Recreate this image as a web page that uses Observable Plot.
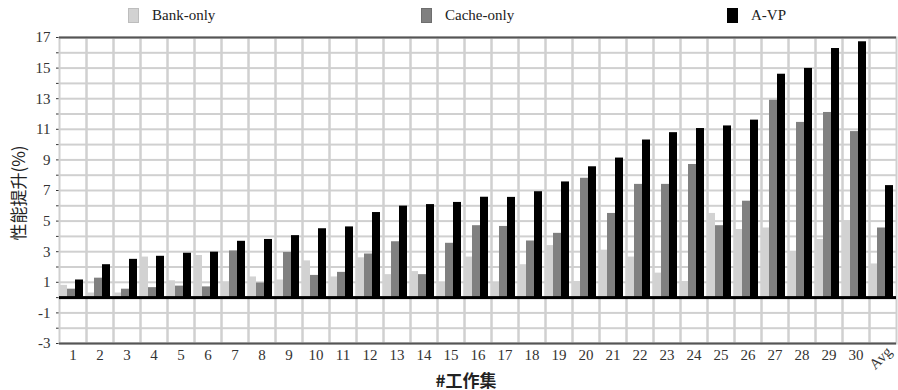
<!DOCTYPE html>
<html>
<head>
<meta charset="utf-8">
<script src="https://cdn.jsdelivr.net/npm/d3@7"></script>
<script src="https://cdn.jsdelivr.net/npm/@observablehq/plot@0.6"></script>
<style>
  html, body { margin: 0; padding: 0; background: #fff; overflow: hidden; }
  #wrap { position: relative; width: 898px; height: 390px; }
  #legend { position: relative; height: 30px; font-family: "Liberation Serif", serif; font-size: 15px; color: #222; }
  .item { position: absolute; top: 8px; display: flex; align-items: center; line-height: 1; }
  .sw { width: 11px; height: 15px; margin-right: 13px; box-sizing: border-box; }
  #ytitle { position: absolute; left: 17px; top: 193px; transform: translate(-50%, -50%) rotate(-90deg);
            font-family: "Noto Sans CJK SC", sans-serif; font-size: 17px; line-height: 1; white-space: nowrap; color: #222; }
  #xtitle { position: absolute; left: 466px; top: 379px; transform: translate(-50%, -50%);
            font-family: "Noto Sans CJK SC", sans-serif; font-size: 17px; line-height: 1; font-weight: bold; white-space: nowrap; color: #222; }
</style>
</head>
<body>
<div id="wrap">
  <div id="legend"></div>
  <div id="chart"></div>
  <div id="ytitle">性能提升(%)</div>
  <div id="xtitle">#工作集</div>
</div>
<script>
const categories = ["1","2","3","4","5","6","7","8","9","10","11","12","13","14","15","16","17","18","19","20","21","22","23","24","25","26","27","28","29","30","Avg"];
const seriesNames = ["Bank-only", "Cache-only", "A-VP"];
const bankOnly  = [0.8,0.3,0.3,2.65,1.1,2.75,1.0,1.35,1.15,2.4,1.35,2.6,1.5,1.7,0.95,2.65,0.95,2.15,3.4,1.05,3.1,2.65,1.6,1.05,5.5,4.45,4.55,3.0,3.8,5.0,2.2];
const cacheOnly = [0.55,1.27,0.55,0.65,0.75,0.7,3.05,0.95,2.95,1.45,1.65,2.85,3.65,1.5,3.55,4.7,4.65,3.7,4.2,7.8,5.5,7.4,7.4,8.7,4.7,6.3,12.9,11.45,12.1,10.85,4.55];
const avp       = [1.15,2.15,2.5,2.7,2.9,2.97,3.68,3.8,4.05,4.5,4.62,5.56,5.98,6.08,6.22,6.56,6.55,6.92,7.56,8.55,9.12,10.3,10.78,11.05,11.22,11.6,14.6,14.98,16.28,16.72,7.32];
const yTicks = [-3,-2,-1,0,1,2,3,4,5,6,7,8,9,10,11,12,13,14,15,16,17];
const colors = ["#d2d2d2", "#808080", "#000000"];

const seriesValues = [bankOnly, cacheOnly, avp];
const data = categories.flatMap((cat, i) =>
  seriesNames.map((s, j) => ({cat, series: s, value: seriesValues[j][i]}))
);

// legend
const legendPos = [128, 421, 727];
const legend = document.getElementById("legend");
seriesNames.forEach((s, j) => {
  const it = document.createElement("div");
  it.className = "item";
  it.style.left = legendPos[j] + "px";
  const sw = document.createElement("div");
  sw.className = "sw";
  sw.style.background = colors[j];
  sw.style.border = "1px solid " + (j === 0 ? "#bdbdbd" : j === 1 ? "#6e6e6e" : "#000");
  const tx = document.createElement("span");
  tx.textContent = s;
  it.appendChild(sw); it.appendChild(tx);
  legend.appendChild(it);
});

const chart = Plot.plot({
  width: 898,
  height: 360,
  marginTop: 7,
  marginBottom: 47,
  marginLeft: 57,
  marginRight: 0,
  style: {fontFamily: "Liberation Serif, serif", fontSize: "15px", color: "#333", background: "#fff", overflow: "visible"},
  fx: {domain: categories, padding: 0, axis: "bottom", label: null, tickSize: 0, tickPadding: 6,
       tickFormat: d => d === "Avg" ? "" : d},
  x: {domain: seriesNames, paddingInner: 0.04, paddingOuter: 0.1, align: 0, axis: null},
  y: {domain: [-3, 17], ticks: yTicks, tickFormat: d => (Math.abs(d) % 2 === 1 ? String(d) : ""),
      tickSize: 3, tickPadding: 6, label: null, line: true},
  color: {domain: seriesNames, range: colors},
  marks: [
    Plot.gridY(yTicks, {stroke: "#d0d0d0", strokeWidth: 2, strokeOpacity: 1}),
    Plot.frame({stroke: "#d0d0d0", strokeWidth: 2}),
    Plot.barY(data, {fx: "cat", x: "series", y: "value", fill: "series"}),
    Plot.ruleY([0], {stroke: "#000", strokeWidth: 3}),
    Plot.ruleY([17, -3], {stroke: "#555", strokeWidth: 2}),
    Plot.text(["Avg"], {fx: d => d, text: d => d, frameAnchor: "bottom", rotate: -45, dy: 18, dx: 1,
                        fontSize: 15, fill: "#333"})
  ]
});
document.getElementById("chart").appendChild(chart);
</script>
</body>
</html>
